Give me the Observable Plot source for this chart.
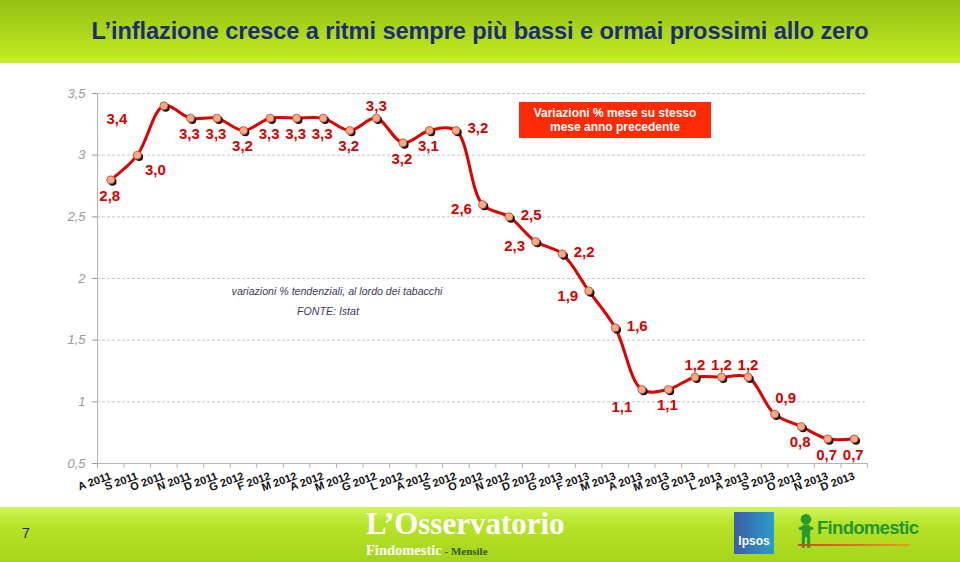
<!DOCTYPE html>
<html>
<head>
<meta charset="utf-8">
<script src="https://cdn.jsdelivr.net/npm/d3@7"></script>
<script src="https://cdn.jsdelivr.net/npm/@observablehq/plot@0.6"></script>
<style>
  html, body { margin: 0; padding: 0; background: #fff; }
  #wrap { position: relative; width: 960px; height: 562px; overflow: hidden; background: #fff; font-family: "Liberation Sans", Arial, sans-serif; }
  #header { position: absolute; left: 0; top: 0; width: 960px; height: 63px;
    background: linear-gradient(#96bf16, #b2de1c 65%, #c4f026); }
  #header h1 { margin: 0; position: absolute; left: 0; right: 0; top: 17px; text-align: center;
    font-size: 23.6px; font-weight: bold; color: #1c2c78; line-height: 28px; letter-spacing: -0.1px; }
  #chart { position: absolute; left: 0; top: 65px; }
  #legendbox { position: absolute; left: 519px; top: 102px; width: 192px; height: 36px; background: #ff2a06;
    color: #fff; font-weight: bold; font-size: 12px; line-height: 14px; text-align: center;
    display: flex; align-items: center; justify-content: center; }
  .note { position: absolute; font-style: italic; font-size: 10.6px; color: #3a3a66; white-space: nowrap; transform: translateX(-50%); }
  #footer { position: absolute; left: 0; top: 507px; width: 960px; height: 55px;
    background: linear-gradient(#d2f65a, #b8e42a 30%, #a6d41a); }
  #pagenum { position: absolute; left: 22px; top: 18px; font-size: 14px; color: #222; }
  .osbig { position: absolute; left: 366px; top: 0px; font-family: "Liberation Serif", "DejaVu Serif", serif; color: #fff;
    font-size: 31px; font-weight: bold; line-height: 34px; letter-spacing: 0px; white-space: nowrap; }
  .ossmall { position: absolute; left: 366px; top: 35px; font-family: "Liberation Serif", "DejaVu Serif", serif; color: #fff;
    font-size: 14.5px; font-weight: bold; line-height: 17px; white-space: nowrap; }
  .ossmall span { color: #2f5a12; font-size: 11px; }
  #ipsos { position: absolute; left: 734px; top: 5px; width: 40px; height: 42px; background: linear-gradient(90deg, #3a5ea8, #2a9ec8);
    color: #fff; font-size: 12px; font-weight: bold; display: flex; align-items: flex-end; justify-content: center; }
  #ipsos span { margin-bottom: 6px; }
  #findo { position: absolute; left: 798px; top: 6px; }
  #findo .name { position: absolute; left: 19px; top: 4px; font-size: 18.5px; font-weight: bold; color: #23962f; letter-spacing: -0.7px; white-space: nowrap; }
  #findo .man { position: absolute; left: 0; top: 0; width: 16px; height: 38px; }
  #findo .bar { position: absolute; left: 0; top: 31px; width: 112px; height: 2px; background: linear-gradient(90deg, #c0501a, #e0a020); }
</style>
</head>
<body>
<div id="wrap">
  <div id="header"><h1>L’inflazione cresce a ritmi sempre più bassi e ormai prossimi allo zero</h1></div>
  <div id="chart"></div>
  <div id="legendbox"><div>Variazioni % mese su stesso<br>mese anno precedente</div></div>
  <div class="note" style="left:337px; top:285px;">variazioni % tendenziali, al lordo dei tabacchi</div>
  <div class="note" style="left:328px; top:305px;">FONTE: Istat</div>
  <div id="footer">
    <div id="pagenum">7</div>
    <div class="osbig">L’Osservatorio</div>
    <div class="ossmall">Findomestic<span> - Mensile</span></div>
    <div id="ipsos"><span>Ipsos</span></div>
    <div id="findo">
      <svg class="man" viewBox="0 0 14 36" width="16" height="38">
        <circle cx="7" cy="6" r="5" fill="#2a9a30"/>
        <rect x="3" y="11" width="8" height="12" rx="3" fill="#2a9a30"/>
        <rect x="0" y="13" width="14" height="3" rx="1.5" fill="#2a9a30"/>
        <rect x="3" y="22" width="3" height="11" fill="#2a9a30"/>
        <rect x="8" y="22" width="3" height="11" fill="#2a9a30"/>
      </svg>
      <div class="bar"></div>
      <div class="name">Findomestic</div>
    </div>
  </div>
</div>
<script>
// ---- data ----
const months = ["A 2011","S 2011","O 2011","N 2011","D 2011","G 2012","F 2012","M 2012","A 2012","M 2012","G 2012","L 2012","A 2012","S 2012","O 2012","N 2012","D 2012","G 2013","F 2013","M 2013","A 2013","M 2013","G 2013","L 2013","A 2013","S 2013","O 2013","N 2013","D 2013"];
const values = [2.8, 3.0, 3.4, 3.3, 3.3, 3.2, 3.3, 3.3, 3.3, 3.2, 3.3, 3.1, 3.2, 3.2, 2.6, 2.5, 2.3, 2.2, 1.9, 1.6, 1.1, 1.1, 1.2, 1.2, 1.2, 0.9, 0.8, 0.7, 0.7];
const labelText = ["2,8","3,0","3,4","3,3","3,3","3,2","3,3","3,3","3,3","3,2","3,3","3,2","3,1","3,2","2,6","2,5","2,3","2,2","1,9","1,6","1,1","1,1","1,2","1,2","1,2","0,9","0,8","0,7","0,7"];
const labelPlacement = ["s","se","ww","s","s","s","s","s","s","s","n","s","s","e","w","e","w","e","w","e","sw","s","n","n","n","ne","s","s","s"];
const yTicks = [0.5, 1, 1.5, 2, 2.5, 3, 3.5];

// ---- styles ----
const offsets = {s: [-1, 16], se: [18, 15], ww: [-47, 13], n: [0, -12], e: [22, -2], w: [-21, 5], sw: [-20, 18], ne: [11, -16]};
const idx = d3.range(months.length);
const boundaries = d3.range(months.length + 1).map(i => i - 0.5);
const fmt = v => String(v).replace(".", ",");

const labelMarks = Object.entries(offsets).map(([key, [dx, dy]]) =>
  Plot.text(idx.filter(i => labelPlacement[i] === key), {
    x: i => i, y: i => values[i], text: i => labelText[i],
    dx, dy, fill: "#d80000", fontWeight: "bold", fontSize: 15
  })
);

const chart = Plot.plot({
  width: 960,
  height: 440,
  marginTop: 28,
  marginBottom: 42,
  marginLeft: 97,
  marginRight: 93,
  style: {fontFamily: "'Liberation Sans', Arial, sans-serif", background: "transparent", overflow: "visible"},
  x: {type: "linear", domain: [-0.5, months.length - 0.5], axis: null},
  y: {domain: [0.5, 3.5], axis: null},
  marks: [
    Plot.gridY(yTicks.filter(v => v > 0.5), {stroke: "#c4c4c4", strokeOpacity: 1, strokeDasharray: "3,2"}),
    Plot.ruleX([-0.5], {stroke: "#b4b4b4"}),
    Plot.ruleY([0.5], {stroke: "#b4b4b4"}),
    Plot.axisY({ticks: yTicks, tickSize: 5, tickPadding: 7, tickFormat: fmt, color: "#9a9a9a", fontSize: 13, fontStyle: "italic"}),
    Plot.axisX({ticks: boundaries, tickSize: 5, tickFormat: () => "", color: "#b4b4b4"}),
    Plot.axisX({ticks: idx, tickSize: 0, tickPadding: 12, tickRotate: -20, tickFormat: i => months[i], fill: "#111", fontSize: 11, fontWeight: "bold"}),
    Plot.line(idx, {x: i => i, y: i => values[i], curve: "catmull-rom", stroke: "#e00000", strokeWidth: 3}),
    Plot.dot(idx, {x: i => i, y: i => values[i], r: 4, fill: "#151515", dx: 1.8, dy: 1.8}),
    Plot.dot(idx, {x: i => i, y: i => values[i], r: 4, fill: "#f7aa88", stroke: "#b04a2a", strokeWidth: 0.8}),
    ...labelMarks
  ]
});
document.getElementById("chart").appendChild(chart);
</script>
</body>
</html>
